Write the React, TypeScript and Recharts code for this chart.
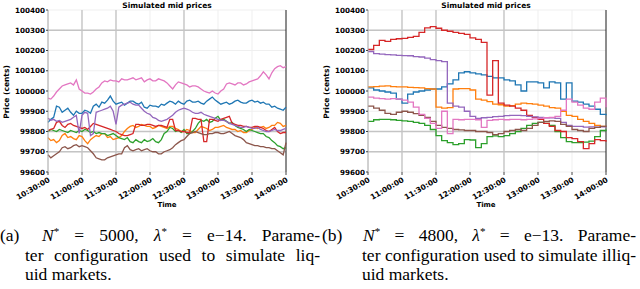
import { CartesianGrid, Line, LineChart, ReferenceLine, XAxis, YAxis } from "recharts";

// sample times, minutes after 10:30:00
const MINUTES_FINE = [
  0, 2.5, 5, 7.5, 10, 12.5, 15, 17.5, 20, 22.5, 25, 27.5, 30, 32.5, 35, 37.5, 40, 42.5, 45,
  47.5, 50, 52.5, 55, 57.5, 60, 62.5, 65, 67.5, 70, 72.5, 75, 77.5, 80, 82.5, 85, 87.5, 90,
  92.5, 95, 97.5, 100, 102.5, 105, 107.5, 110, 112.5, 115, 117.5, 120, 122.5, 125, 127.5, 130,
  132.5, 135, 137.5, 140, 142.5, 145, 147.5, 150, 152.5, 155, 157.5, 160, 162.5, 165, 167.5,
  170, 172.5, 175, 177.5, 180, 182.5, 185, 187.5, 190, 192.5, 195, 197.5, 200, 202.5, 205,
  207.5, 210,
];
const MINUTES = [
  0, 5, 10, 15, 20, 25, 30, 35, 40, 45, 50, 55, 60, 65, 70, 75, 80, 85, 90, 95, 100, 105,
  110, 115, 120, 125, 130, 135, 140, 145, 150, 155, 160, 165, 170, 175, 180, 185, 190, 195,
  200, 205, 210,
];
const TIME_TICKS = [0, 30, 60, 90, 120, 150, 180, 210];
const TIME_LABELS = ["10:30:00", "11:00:00", "11:30:00", "12:00:00", "12:30:00", "13:00:00", "13:30:00", "14:00:00"];
const PRICE_TICKS = [99600, 99700, 99800, 99900, 100000, 100100, 100200, 100300, 100400];
const STRONG_TIME_GRID = [30, 60, 120];
const STRONG_PRICE_GRID = [99700, 99800, 100300];

// (a) liquid market, every 2.5 min
const LIQ_BLUE = [
  99845, 99860, 99870, 99925, 99920, 99895, 99905, 99915, 99895, 99880,
  99900, 99890, 99890, 99905, 99900, 99890, 99925, 99935, 99920, 99945,
  99940, 99955, 99975, 99950, 99935, 99940, 99945, 99930, 99940, 99950,
  99950, 99940, 99935, 99945, 99920, 99915, 99930, 99925, 99925, 99920,
  99935, 99930, 99940, 99950, 99945, 99935, 99950, 99940, 99935, 99950,
  99955, 99945, 99945, 99950, 99940, 99935, 99950, 99960, 99970, 99955,
  99945, 99935, 99940, 99945, 99935, 99940, 99950, 99955, 99945, 99940,
  99940, 99950, 99955, 99945, 99950, 99940, 99945, 99935, 99935, 99920,
  99925, 99915, 99910, 99905, 99920,
];
const LIQ_ORANGE = [
  99770, 99755, 99760, 99745, 99755, 99780, 99790, 99770, 99775, 99765,
  99760, 99780, 99775, 99755, 99740, 99760, 99770, 99780, 99775, 99790,
  99790, 99770, 99775, 99760, 99765, 99770, 99780, 99800, 99815, 99825,
  99830, 99820, 99825, 99835, 99830, 99825, 99825, 99815, 99820, 99830,
  99825, 99820, 99815, 99825, 99825, 99815, 99810, 99800, 99800, 99810,
  99805, 99795, 99795, 99810, 99825, 99820, 99815, 99805, 99810, 99820,
  99820, 99825, 99830, 99820, 99815, 99810, 99810, 99800, 99805, 99795,
  99795, 99805, 99810, 99820, 99815, 99820, 99825, 99815, 99820, 99830,
  99830, 99845, 99840, 99825, 99830,
];
const LIQ_GREEN = [
  99800, 99810, 99805, 99800, 99810, 99805, 99800, 99795, 99805, 99800,
  99795, 99805, 99800, 99810, 99805, 99795, 99800, 99790, 99795, 99790,
  99790, 99780, 99785, 99790, 99780, 99770, 99765, 99760, 99770, 99750,
  99745, 99760, 99750, 99745, 99760, 99750, 99755, 99765, 99750, 99745,
  99760, 99790, 99800, 99820, 99815, 99800, 99805, 99795, 99810, 99790,
  99790, 99800, 99815, 99840, 99855, 99850, 99860, 99845, 99850, 99865,
  99875, 99855, 99860, 99850, 99840, 99845, 99830, 99820, 99815, 99810,
  99800, 99810, 99805, 99800, 99795, 99790, 99790, 99775, 99770, 99755,
  99745, 99730, 99725, 99715, 99720,
];
const LIQ_RED = [
  99805, 99810, 99815, 99845, 99850, 99830, 99820, 99835, 99840, 99830,
  99825, 99820, 99815, 99820, 99810, 99825, 99840, 99835, 99830, 99825,
  99820, 99815, 99810, 99805, 99800, 99790, 99785, 99780, 99780, 99785,
  99790, 99835, 99835, 99830, 99830, 99835, 99835, 99830, 99825, 99830,
  99830, 99825, 99820, 99860, 99860, 99805, 99805, 99800, 99800, 99795,
  99795, 99865, 99865, 99860, 99860, 99750, 99750, 99860, 99860, 99855,
  99850, 99860, 99865, 99870, 99875, 99840, 99835, 99830, 99830, 99825,
  99825, 99820, 99820, 99825, 99825, 99820, 99815, 99805, 99800, 99810,
  99820, 99800, 99790, 99795, 99795,
];
const LIQ_PURPLE = [
  99865, 99855, 99860, 99850, 99855, 99845, 99850, 99855, 99860, 99870,
  99880, 99790, 99880, 99895, 99890, 99780, 99790, 99895, 99900, 99905,
  99910, 99915, 99925, 99900, 99835, 99920, 99930, 99935, 99940, 99945,
  99935, 99930, 99930, 99915, 99900, 99890, 99885, 99870, 99865, 99855,
  99850, 99855, 99860, 99870, 99880, 99895, 99905, 99910, 99915, 99910,
  99905, 99895, 99890, 99890, 99895, 99885, 99880, 99875, 99870, 99865,
  99860, 99855, 99855, 99850, 99840, 99835, 99830, 99825, 99820, 99820,
  99825, 99820, 99815, 99815, 99820, 99810, 99805, 99800, 99800, 99805,
  99810, 99805, 99805, 99810, 99815,
];
const LIQ_BROWN = [
  99685, 99670, 99680, 99690, 99700, 99720, 99725, 99715, 99720, 99730,
  99735, 99725, 99730, 99725, 99720, 99705, 99690, 99670, 99665, 99660,
  99660, 99670, 99675, 99680, 99685, 99690, 99690, 99720, 99730, 99710,
  99705, 99710, 99715, 99705, 99710, 99715, 99705, 99700, 99700, 99690,
  99690, 99700, 99705, 99710, 99720, 99735, 99745, 99755, 99760, 99775,
  99790, 99795, 99800, 99795, 99790, 99785, 99785, 99790, 99790, 99795,
  99795, 99790, 99790, 99795, 99800, 99790, 99780, 99775, 99770, 99760,
  99745, 99740, 99735, 99730, 99730, 99725, 99725, 99720, 99720, 99715,
  99715, 99705, 99695, 99685, 99745,
];
const LIQ_PINK = [
  99965, 99960, 99975, 99995, 100010, 100025, 100030, 100035, 100040, 100030,
  100055, 100010, 100000, 99990, 99990, 99985, 99995, 100010, 100020, 100040,
  100050, 100045, 100055, 100050, 100050, 100045, 100060, 100055, 100055, 100060,
  100065, 100055, 100060, 100065, 100045, 100055, 100060, 100050, 100050, 100060,
  100055, 100050, 100040, 100025, 100010, 100030, 100045, 100040, 100035, 100030,
  100020, 100025, 100025, 100020, 100010, 100000, 99995, 99990, 100000, 99990,
  99985, 100000, 100010, 100035, 100040, 100035, 100030, 100040, 100040, 100030,
  100035, 100045, 100050, 100055, 100060, 100075, 100095, 100080, 100060, 100090,
  100110, 100120, 100125, 100115, 100120,
];

// (b) illiquid market, every 5 min
const ILL_BLUE = [
  100015, 100005, 100000, 99995, 99990, 99960, 99940, 99985, 99995, 100000, 100005, 100010,
  100010, 100020, 100035, 100055, 100090, 100095, 100090, 100085, 100080, 100072, 100065,
  100065, 100055, 100050, 100030, 100000, 100045, 100045, 100040, 100015, 100045, 100040,
  99960, 100040, 99950, 99945, 99935, 99925, 99910, 99885, 99880,
];
const ILL_ORANGE = [
  100020, 100022, 100024, 100025, 100022, 100020, 100020, 100018, 100017, 100015, 100012,
  100010, 99920, 99915, 99918, 100010, 100012, 100012, 100005, 99960, 99955, 99948, 99935,
  99932, 99925, 99928, 99935, 99940, 99938, 99935, 99930, 99925, 99918, 99915, 99900, 99880,
  99875, 99860, 99850, 99840, 99830, 99825, 99825,
];
const ILL_GREEN = [
  99850, 99858, 99860, 99860, 99858, 99855, 99852, 99850, 99845, 99840, 99830, 99810, 99780,
  99755, 99745, 99735, 99740, 99760, 99758, 99720, 99740, 99775, 99778, 99775, 99780, 99790,
  99800, 99815, 99830, 99840, 99845, 99840, 99830, 99800, 99770, 99750, 99745, 99745, 99748,
  99752, 99775, 99805, 99810,
];
const ILL_RED = [
  100205, 100225, 100250, 100245, 100255, 100258, 100260, 100265, 100270, 100290, 100312,
  100318, 100310, 100300, 100295, 100290, 100285, 100280, 100262, 100255, 100240, 99980,
  100150, 99940, 99930, 99925, 99915, 99905, 99880, 99870, 99860, 99840, 99825, 99805, 99800,
  99770, 99765, 99750, 99715, 99740, 99760, 99755, 99750,
];
const ILL_PURPLE = [
  100195, 100185, 100182, 100180, 100178, 100176, 100175, 100174, 100170, 100168, 100162,
  100155, 100150, 100145, 99940, 99925, 99920, 99900, 99875, 99865, 99868, 99870, 99873,
  99875, 99878, 99880, 99880, 99878, 99875, 99872, 99870, 99868, 99867, 99865, 99845, 99830,
  99825, 99825, 99822, 99823, 99822, 99823, 99822,
];
const ILL_BROWN = [
  99925, 99915, 99905, 99890, 99885, 99895, 99900, 99895, 99888, 99880, 99870, 99850, 99830,
  99820, 99815, 99810, 99808, 99805, 99805, 99800, 99800, 99795, 99785, 99790, 99800, 99805,
  99810, 99805, 99815, 99830, 99845, 99850, 99852, 99850, 99835, 99825, 99810, 99805, 99800,
  99815, 99820, 99825, 99830,
];
const ILL_PINK = [
  99970, 99965, 99962, 99960, 99962, 99960, 99955, 99945, 99920, 99885, 99865, 99840, 99815,
  99900, 99790, 99860, 99858, 99860, 99860, 99858, 99820, 99855, 99858, 99860, 99858, 99860,
  99860, 99858, 99860, 99862, 99865, 99868, 99870, 99875, 99905, 99960, 99945, 99930, 99915,
  99910, 99945, 99965, 99920,
];

const SERIES = [
  { key: "blue", color: "#1f77b4" },
  { key: "orange", color: "#ff7f0e" },
  { key: "green", color: "#2ca02c" },
  { key: "red", color: "#d62728" },
  { key: "purple", color: "#9467bd" },
  { key: "brown", color: "#8c564b" },
  { key: "pink", color: "#e377c2" },
];

const buildRows = (times: number[], cols: Record<string, number[]>) =>
  times.map((t, i) => {
    const row: Record<string, number> = { t };
    Object.keys(cols).forEach((k) => (row[k] = cols[k][i]));
    return row;
  });

const liquidRows = buildRows(MINUTES_FINE, {
  blue: LIQ_BLUE, orange: LIQ_ORANGE, green: LIQ_GREEN, red: LIQ_RED,
  purple: LIQ_PURPLE, brown: LIQ_BROWN, pink: LIQ_PINK,
});
const illiquidRows = buildRows(MINUTES, {
  blue: ILL_BLUE, orange: ILL_ORANGE, green: ILL_GREEN, red: ILL_RED,
  purple: ILL_PURPLE, brown: ILL_BROWN, pink: ILL_PINK,
});

const FONT = "DejaVu Sans, sans-serif";

const TimeTick = ({ x, y, payload }: any) => {
  const label = TIME_LABELS[TIME_TICKS.indexOf(payload.value)];
  return (
    <text
      x={x}
      y={y}
      dy={5}
      transform={`rotate(-30 ${x} ${y})`}
      textAnchor="end"
      fontSize={7.5}
      fontWeight="bold"
      fontFamily={FONT}
      fill="#000"
    >
      {label}
    </text>
  );
};

const PriceChart = ({
  rows,
  left,
  curve,
}: {
  rows: Record<string, number>[];
  left: number;
  curve: "linear" | "stepAfter";
}) => (
  <div style={{ position: "absolute", left, top: 0 }}>
    <LineChart width={300} height={215} data={rows} margin={{ top: 10, right: 14, bottom: 13, left: 8 }}>
      <CartesianGrid stroke="#efefef" strokeWidth={1} />
      {STRONG_TIME_GRID.map((t) => (
        <ReferenceLine key={`vt${t}`} x={t} stroke="#c4c4c4" strokeWidth={1.3} />
      ))}
      {STRONG_PRICE_GRID.map((p) => (
        <ReferenceLine key={`hp${p}`} y={p} stroke="#c4c4c4" strokeWidth={1.3} />
      ))}
      <XAxis
        dataKey="t"
        type="number"
        domain={[0, 210]}
        ticks={TIME_TICKS}
        tick={<TimeTick />}
        tickLine={{ stroke: "#444" }}
        tickSize={3}
        axisLine={false}
        height={30}
        interval={0}
      />
      <YAxis
        type="number"
        domain={[99600, 100400]}
        ticks={PRICE_TICKS}
        allowDataOverflow
        interval={0}
        width={40}
        tickSize={2}
        tickMargin={1}
        tickLine={{ stroke: "#444" }}
        axisLine={{ stroke: "#aaa" }}
        tick={{ fontSize: 7.2, fontWeight: "bold", fontFamily: FONT, fill: "#000" }}
      />
      <ReferenceLine x={210} stroke="#222" strokeWidth={1} />
      {SERIES.map((s) => (
        <Line
          key={s.key}
          dataKey={s.key}
          stroke={s.color}
          strokeWidth={1.3}
          dot={false}
          type={curve}
          isAnimationActive={false}
        />
      ))}
    </LineChart>
  </div>
);

const Labels = ({ left, plotCenter }: { left: number; plotCenter: number }) => (
  <>
    <text x={left + plotCenter} y={8} textAnchor="middle" fontSize={7.5} fontWeight="bold" fontFamily={FONT}>
      Simulated mid prices
    </text>
    <text
      x={left + 9}
      y={92}
      textAnchor="middle"
      fontSize={7.5}
      fontWeight="bold"
      fontFamily={FONT}
      transform={`rotate(-90 ${left + 9} 92)`}
    >
      Price (cents)
    </text>
    <text x={left + plotCenter} y={207} textAnchor="middle" fontSize={7} fontWeight="bold" fontFamily={FONT}>
      Time
    </text>
  </>
);

const lineStyle = (left: number, top: number, width?: number): React.CSSProperties => ({
  position: "absolute",
  left,
  top,
  width,
  height: 17,
  fontFamily: "'Liberation Serif', serif",
  fontSize: 17.5,
  lineHeight: "17px",
  whiteSpace: "nowrap",
  textAlign: width ? "justify" : "left",
  textAlignLast: width ? "justify" : "left",
  color: "#000",
});

const Star = () => (
  <span style={{ fontSize: 11, position: "relative", top: -6 }}>*</span>
);

const Caption = ({ x, label, n, lam, tail, line2 }: any) => (
  <>
    <div style={lineStyle(x.label, 227)}>{label}</div>
    <div style={lineStyle(x.first, 227, x.firstWidth)}>
      <i>N</i>
      <Star /> = {n}, <i>λ</i>
      <Star /> = e−{lam}. {tail}
    </div>
    <div style={lineStyle(x.body, 247, x.bodyWidth)}>{line2}</div>
    <div style={lineStyle(x.body, 266)}>uid markets.</div>
  </>
);

export default function App() {
  return (
    <div style={{ position: "absolute", left: 0, top: 0, width: 640, height: 289, background: "#fff", overflow: "hidden" }}>
      <PriceChart rows={liquidRows} left={0} curve="linear" />
      <PriceChart rows={illiquidRows} left={320} curve="stepAfter" />
      <svg width={640} height={215} style={{ position: "absolute", left: 0, top: 0, pointerEvents: "none" }}>
        <Labels left={0} plotCenter={167} />
        <Labels left={320} plotCenter={166} />
      </svg>
      <Caption
        x={{ label: 0, first: 42, firstWidth: 278, body: 25, bodyWidth: 295 }}
        label="(a)"
        n="5000"
        lam="14"
        tail="Parame-"
        line2="ter configuration used to simulate liq-"
      />
      <Caption
        x={{ label: 322, first: 363, firstWidth: 273, body: 362, bodyWidth: 274 }}
        label="(b)"
        n="4800"
        lam="13"
        tail="Parame-"
        line2="ter configuration used to simulate illiq-"
      />
    </div>
  );
}
